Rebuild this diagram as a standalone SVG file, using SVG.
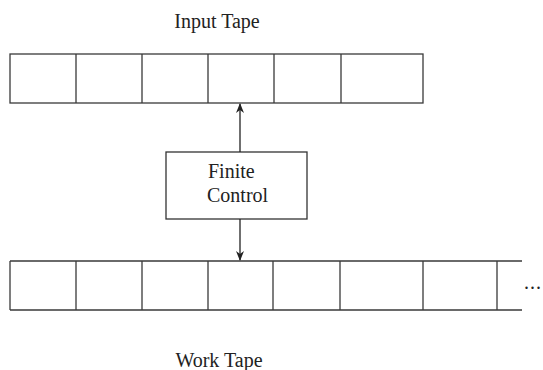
<svg xmlns="http://www.w3.org/2000/svg" width="543" height="370" viewBox="0 0 543 370">
<style>
.ln{stroke:#3a3a3a;stroke-width:1.3;fill:none}
.box{stroke:#333;stroke-width:1.3;fill:#fff}
.t{font-family:"Liberation Serif",serif;font-size:20px;fill:#222}
.c{stroke:#222;stroke-width:1.3;fill:none}
</style>
<defs>
<marker id="ah" viewBox="0 0 10 10" refX="9" refY="5" markerWidth="10" markerHeight="10" markerUnits="userSpaceOnUse" orient="auto">
<path d="M0,1 L10,5 L0,9 L3,5 Z" fill="#222"/>
</marker>
</defs>
<g id="input-label"><text class="t" x="217" y="28" text-anchor="middle">Input Tape</text></g>
<g id="input-tape">
<rect class="ln" x="10" y="54" width="413" height="49"/>
<path class="ln" d="M76,54V103M142,54V103M208,54V103M274,54V103M341,54V103"/>
</g>
<g id="finite-control">
<rect class="box" x="166" y="152" width="141" height="67"/>
<text class="t" x="208" y="178">Finite</text>
<text class="t" x="207" y="202">Control</text>
</g>
<g id="work-tape">
<path class="ln" d="M10,261H522M10,310H522M10,261V310M76,261V310M142,261V310M208,261V310M273,261V310M340,261V310M423,261V310M497,261V310"/>
<text class="t" x="524" y="289" style="letter-spacing:1px">...</text>
</g>
<g id="work-label"><text class="t" x="219" y="367" text-anchor="middle">Work Tape</text></g>
<g id="connectors">
<line class="c" x1="240" y1="152" x2="240" y2="104" marker-end="url(#ah)"/>
<line class="c" x1="240" y1="219" x2="240" y2="260" marker-end="url(#ah)"/>
</g>
</svg>
